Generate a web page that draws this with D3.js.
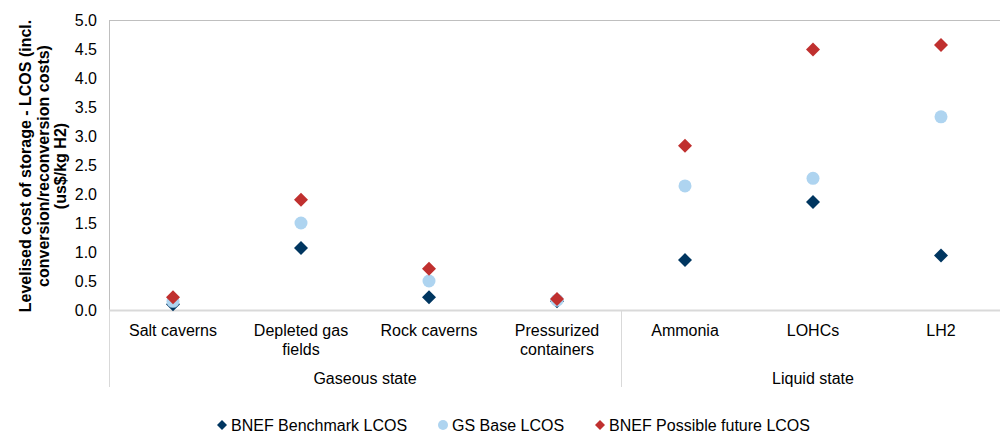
<!DOCTYPE html>
<html><head><meta charset="utf-8">
<script src="https://cdn.jsdelivr.net/npm/d3@7"></script>
<style>body{margin:0;background:#fff}svg{display:block;font-family:"Liberation Sans",Arial,sans-serif}</style>
</head><body><svg id="c" width="1000" height="435"></svg>
<script>
const categories = ["Salt caverns","Depleted gas|fields","Rock caverns","Pressurized|containers","Ammonia","LOHCs","LH2"];
const groups = [{name:"Gaseous state", n:4},{name:"Liquid state", n:3}];
const benchmark = [0.10, 1.07, 0.22, 0.15, 0.86, 1.86, 0.94];
const gsBase = [0.15, 1.50, 0.50, 0.17, 2.14, 2.27, 3.33];
const future = [0.22, 1.90, 0.71, 0.19, 2.83, 4.49, 4.57];
const yTicks = [0,0.5,1,1.5,2,2.5,3,3.5,4,4.5,5];
const seriesNames = ["BNEF Benchmark LCOS","GS Base LCOS","BNEF Possible future LCOS"];
const colors = ["#003660","#aed4f0","#c0302f"];

const FS = 16;
const svg = d3.select("#c");
const L=109, R=1005, T=20, B=310;
const x = d3.scaleBand().domain(d3.range(categories.length)).range([L,R]);
const y = d3.scaleLinear().domain([0,5]).range([B,T]);

// frame
svg.append("line").attr("x1",L).attr("x2",1000).attr("y1",T+0.5).attr("y2",T+0.5).attr("stroke","#bfbfbf");
svg.append("line").attr("x1",L+0.5).attr("x2",L+0.5).attr("y1",T).attr("y2",B).attr("stroke","#bfbfbf");

// y axis
const ya = svg.append("g").attr("transform",`translate(${L},0)`)
  .call(d3.axisLeft(y).tickValues(yTicks).tickFormat(d3.format(".1f")).tickSize(0).tickPadding(12));
ya.select(".domain").remove();
ya.selectAll("text").attr("font-size",FS).attr("fill","#000").attr("font-family","Liberation Sans, Arial, sans-serif").attr("dy","0.35em");

// x axis line
svg.append("line").attr("x1",L).attr("x2",1000).attr("y1",B+0.5).attr("y2",B+0.5).attr("stroke","#d9d9d9").attr("stroke-width",2);

// group separators
let idx=0;
const seps=[0];
groups.forEach(g=>{idx+=g.n; seps.push(idx);});
seps.forEach(s=>{
  if(s<categories.length){
    const xx = x(s);
    svg.append("line").attr("x1",Math.round(xx)+0.5).attr("x2",Math.round(xx)+0.5).attr("y1",B).attr("y2",387).attr("stroke","#d9d9d9");
  }
});

// category labels
categories.forEach((c,i)=>{
  const cx = x(i)+x.bandwidth()/2;
  const t = svg.append("text").attr("x",cx).attr("y",336).attr("text-anchor","middle").attr("font-size",FS).attr("fill","#000");
  c.split("|").forEach((ln,k)=>t.append("tspan").attr("x",cx).attr("dy",k?19:0).text(ln));
});
// group labels
idx=0;
groups.forEach(g=>{
  const cx = (x(idx) + x(idx+g.n-1)+x.bandwidth())/2;
  svg.append("text").attr("x",cx).attr("y",384).attr("text-anchor","middle").attr("font-size",FS).attr("fill","#000").text(g.name);
  idx+=g.n;
});

// y title
const yt = svg.append("text").attr("transform","translate(0,166) rotate(-90)").attr("text-anchor","middle").attr("font-size",FS).attr("font-weight","bold").attr("fill","#000");
["Levelised cost of storage - LCOS (incl.","conversion/reconversion costs)","(us$/kg H2)"].forEach((ln,k)=>yt.append("tspan").attr("x",0).attr("y",31+k*17.5).text(ln));

const drawDiamond = (sel, cx, cy, col, s) => sel.append("path").attr("d", `M${cx},${cy-s}L${cx+s},${cy}L${cx},${cy+s}L${cx-s},${cy}Z`).attr("fill",col);

const gPts = svg.append("g");
benchmark.forEach((v,i)=>drawDiamond(gPts, x(i)+x.bandwidth()/2, y(v), colors[0], 7));
gsBase.forEach((v,i)=>gPts.append("circle").attr("cx",x(i)+x.bandwidth()/2).attr("cy",y(v)).attr("r",6.5).attr("fill",colors[1]));
future.forEach((v,i)=>drawDiamond(gPts, x(i)+x.bandwidth()/2, y(v), colors[2], 7));

// legend
const lg = svg.append("g");
const lx = [222, 443, 600];
seriesNames.forEach((n,i)=>{
  if(i===1) lg.append("circle").attr("cx",lx[i]).attr("cy",425).attr("r",5).attr("fill",colors[i]);
  else drawDiamond(lg, lx[i], 425, colors[i], 5);
  lg.append("text").attr("x",lx[i]+9).attr("y",431).attr("font-size",FS).attr("fill","#000").text(n);
});
</script></body></html>
